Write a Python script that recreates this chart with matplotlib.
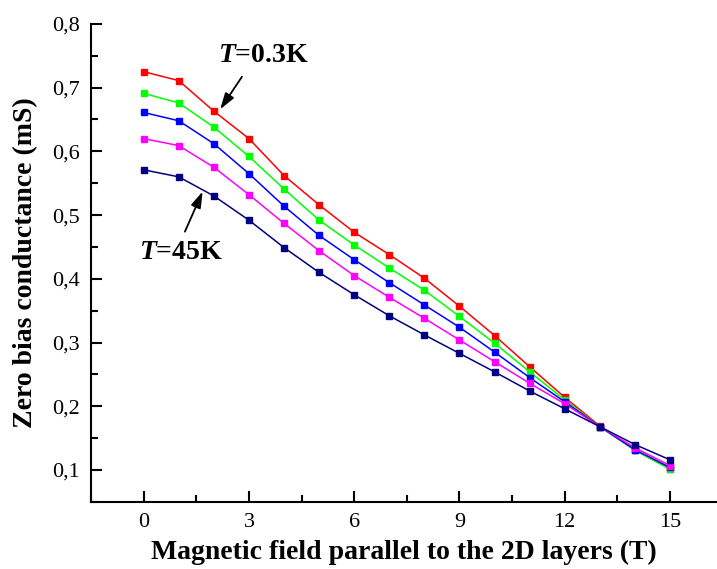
import matplotlib
matplotlib.use("Agg")
import matplotlib.pyplot as plt
from matplotlib.ticker import MultipleLocator, FuncFormatter

plt.rcParams['font.family'] = ['Liberation Serif', 'DejaVu Serif']
plt.rcParams['mathtext.fontset'] = 'custom'
plt.rcParams['mathtext.rm'] = 'Liberation Serif:bold'
plt.rcParams['mathtext.it'] = 'Liberation Serif:bold:italic'

# magnetic field (T)
field = [0, 1, 2, 3, 4, 5, 6, 7, 8, 9, 10, 11, 12, 13, 14, 15]

# zero bias conductance (mS), from lowest to highest temperature
g_03K = [0.725, 0.711, 0.663, 0.620, 0.562, 0.516, 0.473, 0.438, 0.401, 0.357,
         0.311, 0.262, 0.214, 0.169, 0.131, 0.102]
g_2 = [0.691, 0.676, 0.638, 0.592, 0.541, 0.492, 0.453, 0.417, 0.382, 0.341,
       0.299, 0.254, 0.210, 0.168, 0.131, 0.101]
g_3 = [0.661, 0.648, 0.612, 0.565, 0.514, 0.468, 0.430, 0.394, 0.359, 0.324,
       0.285, 0.245, 0.207, 0.168, 0.132, 0.104]
g_4 = [0.620, 0.609, 0.575, 0.532, 0.487, 0.444, 0.405, 0.371, 0.338, 0.304,
       0.270, 0.236, 0.204, 0.168, 0.135, 0.107]
g_45K = [0.571, 0.560, 0.530, 0.492, 0.449, 0.410, 0.375, 0.342, 0.312, 0.283,
         0.254, 0.224, 0.196, 0.168, 0.140, 0.116]

allSeries = [g_03K, g_2, g_3, g_4, g_45K]
allColors = ['#ff0000', '#00ff00', '#0000ff', '#ff00ff', '#000080']

fig = plt.figure(figsize=(7.17, 5.69), dpi=100)
ax = fig.add_axes([0.127, 0.118, 0.873, 0.84])

for ys, c in zip(allSeries, allColors):
    ax.plot(field, ys, color=c, lw=1.1, marker='s', ms=4.5, mec=c, mfc=c)

ax.set_xlim(-1.5, 16.34)
ax.set_ylim(0.05, 0.8)

ax.xaxis.set_major_locator(MultipleLocator(3))
ax.xaxis.set_minor_locator(MultipleLocator(1.5))
ax.yaxis.set_major_locator(MultipleLocator(0.1))
ax.yaxis.set_minor_locator(MultipleLocator(0.05))
ax.yaxis.set_major_formatter(FuncFormatter(lambda v, p: ('%.1f' % v).replace('.', ',')))

ax.spines['top'].set_visible(False)
ax.spines['right'].set_visible(False)
ax.spines['left'].set_linewidth(1.5)
ax.spines['bottom'].set_linewidth(1.5)
ax.tick_params(which='major', direction='in', length=8, width=1.5, labelsize=16, pad=8)
ax.tick_params(which='minor', direction='in', length=5, width=1.5)

ax.set_xlabel('Magnetic field parallel to the 2D layers (T)', fontsize=20,
              fontweight='bold', labelpad=6)
ax.set_ylabel('Zero bias conductance (mS)', fontsize=20, fontweight='bold', labelpad=10)

arrowStyle = dict(arrowstyle='-|>,head_length=0.7,head_width=0.22', color='k',
                  lw=1.3, mutation_scale=14, shrinkA=0, shrinkB=0)

ax.text(3.41, 0.750, '$T$=0.3K', fontsize=20, fontweight='bold', ha='center', va='center')
ax.annotate('', xy=(2.18, 0.666), xytext=(2.80, 0.717), arrowprops=arrowStyle)
ax.text(1.06, 0.442, '$T$=45K', fontsize=20, fontweight='bold', ha='center', va='center')
ax.annotate('', xy=(1.68, 0.537), xytext=(1.175, 0.474), arrowprops=arrowStyle)

fig.savefig('out.png', dpi=100)
